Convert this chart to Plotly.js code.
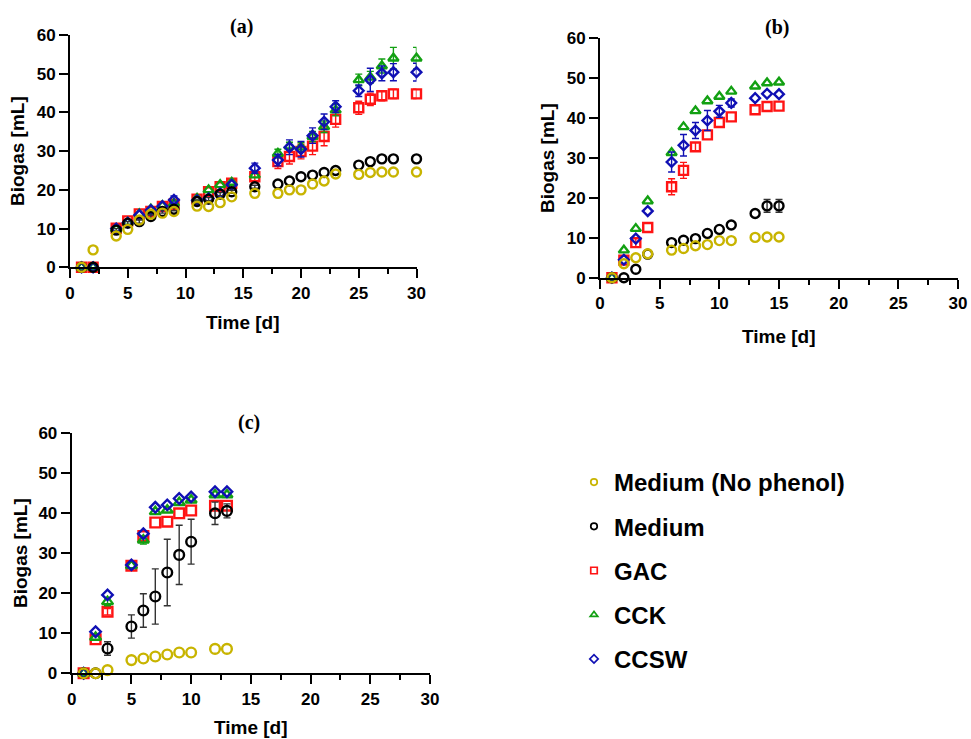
<!DOCTYPE html>
<html>
<head>
<meta charset="utf-8">
<script src="https://cdn.plot.ly/plotly-3.0.1.min.js"></script>
<style>html,body{margin:0;padding:0;background:#fff;}#chart{width:971px;height:739px;}</style>
</head>
<body>
<div id="chart"></div>
<script>
// ---------- data ----------
var seriesNames = ["Medium (No phenol)", "Medium", "GAC", "CCK", "CCSW"];
var NA = NaN; // error bar hidden inside the marker

// Panel (a)
var daysA = [1,2,4,5,6,7,8,9,11,12,13,14,16,18,19,20,21,22,23,25,26,27,28,30];
var noPhenolA = [0,4.5,8.1,9.8,12.2,13.7,14,14.4,15.8,15.7,16.7,18.2,19.1,19.1,20,20,21.5,22.3,24.1,24,24.5,24.6,24.6,24.6];
var mediumA   = [0,0,9.6,11.4,11.8,13.1,14.4,15,17,17.6,18.9,19.5,20.8,21.5,22.3,23.4,23.8,24.5,25,26.4,27.3,28,28,28];
var gacA      = [0,0,10.1,12,13.8,14.4,15.7,16.3,17.6,19.5,20.8,21.7,23.4,27.3,28.6,29.9,31.3,33.8,38.2,41.2,43.4,44.3,44.8,44.8];
var cckA      = [0,0,9.9,11.6,13.8,15,15.9,16.5,17.8,20,21.3,21.9,23.8,29.4,31.3,31,33.8,36.3,40.6,48.4,49.1,52,54,54];
var ccswA     = [0,0,10,11.5,13.5,14.8,15.8,17.4,17.3,17.8,19.1,21.3,25.6,27.7,31,30.5,34,37.6,41.5,45.6,48.4,50.1,50.4,50.4];
var noPhenolErrA = [NA,NA,NA,NA,NA,NA,NA,NA,NA,NA,NA,NA,NA,NA,NA,NA,NA,NA,NA,NA,NA,NA,NA,NA];
var mediumErrA   = [NA,NA,0.4,0.4,0.4,0.4,0.4,0.4,0.4,0.4,0.4,0.4,0.4,NA,NA,NA,NA,NA,NA,NA,NA,NA,NA,NA];
var gacErrA      = [NA,NA,NA,NA,NA,NA,NA,NA,NA,NA,NA,NA,1.5,1.8,1.9,1.9,2.2,2.4,2.0,1.7,1.6,1.3,1.2,1.2];
var cckErrA      = [NA,NA,NA,NA,NA,NA,NA,NA,NA,NA,NA,NA,NA,1.1,1.0,1.2,1.3,1.5,1.5,1.5,1.5,1.8,2.8,2.8];
var ccswErrA     = [NA,NA,NA,NA,NA,NA,NA,1.0,NA,NA,NA,NA,1.3,1.5,1.9,2.0,2.0,2.0,1.5,1.5,3.0,1.9,2.2,2.3];

// Panel (b)
var daysB = [1,2,3,4,6,7,8,9,10,11,13,14,15];
var noPhenolB = [0,3.5,5,6,6.9,7.3,8,8.3,9.3,9.3,10.1,10.2,10.2];
var mediumB   = [0,0,2.1,5.9,8.8,9.4,9.8,11.1,12.1,13.2,16.1,18,18];
var gacB      = [0,4.4,8.8,12.6,22.8,26.9,32.8,35.8,38.9,40.3,42.1,42.9,43];
var cckB      = [0,6.9,12.3,19.2,31.3,37.8,41.8,44.3,45.4,46.7,48,48.8,49];
var ccswB     = [0,4.5,9.8,16.7,29,33.2,36.9,39.4,41.7,43.8,45,46.1,46];
var noPhenolErrB = [NA,NA,NA,NA,NA,NA,NA,NA,NA,NA,NA,NA,NA];
var mediumErrB   = [NA,NA,NA,NA,NA,NA,NA,NA,NA,NA,NA,1.6,1.6];
var gacErrB      = [NA,NA,1.0,NA,2.0,2.0,1.0,NA,NA,NA,NA,NA,NA];
var cckErrB      = [NA,NA,NA,NA,NA,NA,NA,NA,NA,NA,NA,NA,NA];
var ccswErrB     = [NA,NA,NA,NA,2.5,2.7,2.0,2.5,1.5,1.0,NA,NA,NA];

// Panel (c)
var daysC = [1,2,3,5,6,7,8,9,10,12,13];
var noPhenolC = [0,0,0.8,3.3,3.7,4.2,4.7,5.2,5.2,6.1,6.1];
var mediumC   = [0,0,6.2,11.7,15.7,19.2,25.2,29.6,32.9,40,40.6];
var gacC      = [0,8.5,15.4,26.9,34.3,37.7,37.9,40,40.7,41.9,41.9];
var cckC      = [0,9,17.9,26.9,33.3,40.4,40.8,42.7,43.3,44.6,44.6];
var ccswC     = [0,10.4,19.6,27.1,34.9,41.5,42.1,43.7,44.1,45.4,45.4];
var noPhenolErrC = [NA,NA,NA,NA,NA,NA,NA,NA,NA,NA,NA];
var mediumErrC   = [NA,NA,1.7,2.9,4.2,6.9,8.3,7.4,5.6,2.8,1.75];
var gacErrC      = [NA,NA,0.8,NA,NA,NA,NA,NA,NA,NA,NA];
var cckErrC      = [NA,NA,1.0,NA,1.0,NA,NA,NA,NA,NA,NA];
var ccswErrC     = [NA,NA,NA,NA,NA,NA,NA,NA,NA,NA,NA];

var xTickVals = [0,5,10,15,20,25,30];
var yTickVals = [0,10,20,30,40,50,60];

// ---------- styles ----------
var colors  = ["#C8B400", "#000000", "#FF1414", "#12A012", "#1010B4"];
var symbols = ["circle-open", "circle-open", "square-open", "triangle-up-open", "diamond-open"];
var sizes   = [9, 9, 9, 9, 7.5];

var traces = [];
function addPanel(xa, ya, days, vals, errs, scale) {
  // draw order: GAC, CCK, CCSW, Medium, Medium (No phenol)
  var order = [2, 3, 4, 1, 0];
  order.forEach(function (i) {
    traces.push({
      type: "scatter", mode: "markers",
      x: days, y: vals[i], xaxis: xa, yaxis: ya,
      name: seriesNames[i], legendgroup: "g" + i, showlegend: false,
      cliponaxis: false,
      marker: {symbol: symbols[i], size: sizes[i] * scale, color: colors[i],
               line: {color: colors[i], width: 2.4}},
      error_y: {type: "data", array: errs[i], visible: true,
                color: i === 1 ? "#333333" : colors[i], thickness: 1.4, width: 3.5},
      hoverinfo: "x+y+name"
    });
  });
}
addPanel("x", "y", daysA, [noPhenolA, mediumA, gacA, cckA, ccswA],
         [noPhenolErrA, mediumErrA, gacErrA, cckErrA, ccswErrA], 1);
addPanel("x2", "y2", daysB, [noPhenolB, mediumB, gacB, cckB, ccswB],
         [noPhenolErrB, mediumErrB, gacErrB, cckErrB, ccswErrB], 1);
addPanel("x3", "y3", daysC, [noPhenolC, mediumC, gacC, cckC, ccswC],
         [noPhenolErrC, mediumErrC, gacErrC, cckErrC, ccswErrC], 1.08);

// legend entries
seriesNames.forEach(function (nm, i) {
  traces.push({
    type: "scatter", mode: "markers", x: [null], y: [null],
    xaxis: "x", yaxis: "y", name: nm, legendgroup: "g" + i, legendrank: i + 1,
    showlegend: true,
    marker: {symbol: symbols[i], size: 6.5, color: colors[i], line: {color: colors[i], width: 1.7}}
  });
});

var FONT = "Liberation Sans, Arial, Helvetica, sans-serif";
function xAxis(dom, anchor) {
  return {
    domain: dom, anchor: anchor, range: [0, 30], tickvals: xTickVals,
    showgrid: false, zeroline: false, showline: true, linecolor: "#000", linewidth: 2,
    ticks: "outside", ticklen: 9, tickwidth: 2, tickcolor: "#000",
    minor: {dtick: 2.5, ticks: "outside", ticklen: 5, tickwidth: 2, tickcolor: "#000", showgrid: false},
    tickfont: {family: FONT, size: 17, color: "#000", weight: "bold"},
    automargin: false, fixedrange: true
  };
}
function yAxis(dom, anchor) {
  return {
    domain: dom, anchor: anchor, range: [0, 60], tickvals: yTickVals,
    showgrid: false, zeroline: false, showline: true, linecolor: "#000", linewidth: 2,
    ticks: "outside", ticklen: 9, tickwidth: 2, tickcolor: "#000",
    tickfont: {family: FONT, size: 17, color: "#000", weight: "bold"},
    automargin: false, fixedrange: true
  };
}

var W = 971, H = 739;
function px(x) { return x / W; }
function py(y) { return 1 - y / H; }

var titleFont = {family: "Liberation Serif, Times New Roman, serif", size: 20, color: "#000", weight: "bold"};
var axTitleFont = {family: FONT, size: 19, color: "#000", weight: "bold"};
function ann(text, x, y, font, angle) {
  return {text: text, x: px(x), y: py(y), xref: "paper", yref: "paper",
          xanchor: "center", yanchor: "middle", showarrow: false, font: font, textangle: angle || 0};
}

var layout = {
  width: W, height: H,
  margin: {l: 0, r: 0, t: 0, b: 0},
  paper_bgcolor: "#fff", plot_bgcolor: "#fff",
  showlegend: true,
  legend: {x: px(574), y: py(460), xanchor: "left", yanchor: "top",
           font: {family: FONT, size: 24, color: "#000", weight: "bold"},
           tracegroupgap: 10, bgcolor: "rgba(0,0,0,0)", borderwidth: 0},
  xaxis:  xAxis([px(70), px(416.5)], "y"),
  yaxis:  yAxis([py(267.3), py(35)], "x"),
  xaxis2: xAxis([px(600), px(958)], "y2"),
  yaxis2: yAxis([py(277.7), py(38.3)], "x2"),
  xaxis3: xAxis([px(71.7), px(430)], "y3"),
  yaxis3: yAxis([py(673.3), py(433.3)], "x3"),
  annotations: [
    ann("(a)", 241, 26, titleFont),
    ann("(b)", 777, 28, titleFont),
    ann("(c)", 249, 422, titleFont),
    ann("Time [d]", 243, 322, axTitleFont),
    ann("Time [d]", 779, 337, axTitleFont),
    ann("Time [d]", 251, 727, axTitleFont),
    ann("Biogas [mL]", 18, 151, axTitleFont, -90),
    ann("Biogas [mL]", 547, 158, axTitleFont, -90),
    ann("Biogas [mL]", 20, 553, axTitleFont, -90)
  ]
};

Plotly.newPlot("chart", traces, layout, {displayModeBar: false, staticPlot: true});
</script>
</body>
</html>
